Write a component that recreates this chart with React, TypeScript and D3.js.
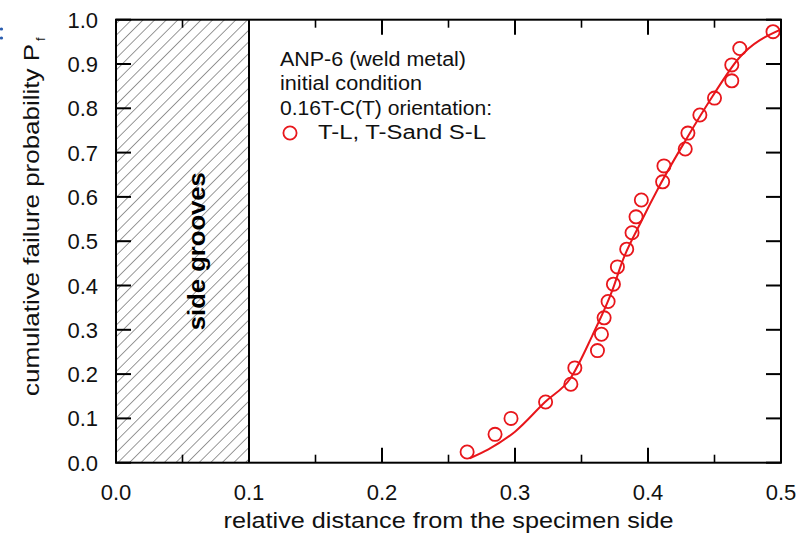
import React from 'react';
import * as d3 from 'd3';

// ---- data ----
const xTickValues = [0, 0.1, 0.2, 0.3, 0.4, 0.5];
const xMinorTickValues = [0.05, 0.15, 0.25, 0.35, 0.45];
const yTickValues = [0, 0.1, 0.2, 0.3, 0.4, 0.5, 0.6, 0.7, 0.8, 0.9, 1.0];

const distance = [
  0.264, 0.285, 0.297, 0.323, 0.342, 0.345, 0.362, 0.365, 0.367, 0.370, 0.374, 0.377,
  0.384, 0.388, 0.391, 0.395, 0.411, 0.412, 0.428, 0.430, 0.439, 0.450, 0.463, 0.463,
  0.469, 0.494,
];
const probability = [
  0.024, 0.064, 0.100, 0.137, 0.177, 0.214, 0.253, 0.290, 0.327, 0.364, 0.403, 0.442,
  0.482, 0.519, 0.555, 0.593, 0.634, 0.670, 0.708, 0.744, 0.785, 0.823, 0.862, 0.898,
  0.935, 0.973,
];

const fitDistance = [0.266, 0.28, 0.30, 0.3226, 0.3416, 0.3583, 0.3733, 0.3808, 0.395, 0.4083, 0.4283, 0.4483, 0.4683, 0.5];
const fitProbability = [0.010, 0.030, 0.070, 0.137, 0.19, 0.288, 0.39, 0.455, 0.545, 0.623, 0.728, 0.826, 0.913, 0.978];

const grooveExtent = [0, 0.1];
const grooveLabel = 'side grooves';
const legendLines = ['ANP-6 (weld metal)', 'initial condition', '0.16T-C(T) orientation:'];
const seriesName = 'T-L, T-Sand S-L';
const xTitle = 'relative distance from the specimen side';
const yTitle = 'cumulative failure probability P';
const yTitleSub = 'f';

const W = 799;
const H = 534;
const FONT = 'Arial, "Liberation Sans", sans-serif';
const RED = '#e8161b';
const legendLengths = [186, 142, 212];

export default function App() {
  const x = d3.scaleLinear().domain([0, 0.5]).range([116, 781]);
  const y = d3.scaleLinear().domain([0, 1]).range([462.7, 19.7]);
  const [x0, x1] = x.range();
  const [y0, y1] = y.range();

  const fitPts = fitDistance.map((d, i) => [d, fitProbability[i]] as [number, number]);
  const line = d3
    .line<[number, number]>()
    .x((d) => x(d[0]))
    .y((d) => y(d[1]))
    .curve(d3.curveMonotoneX);

  const fmt = d3.format('.1f');
  const majorLen = 15;
  const minorLen = 8;

  return (
    <svg
      width={W}
      height={H}
      style={{ position: 'absolute', left: 0, top: 0, background: '#fff' }}
      fontFamily={FONT}
    >
      <defs>
        <pattern
          id="hatch"
          patternUnits="userSpaceOnUse"
          width={8.2}
          height={8.2}
          patternTransform="rotate(45)"
        >
          <line x1={0} y1={0} x2={0} y2={8.2} stroke="#333" strokeWidth={1} />
        </pattern>
        <clipPath id="plotclip">
          <rect x={x0} y={y1} width={x1 - x0} height={y0 - y1} />
        </clipPath>
      </defs>
      <rect width={W} height={H} fill="#fff" />

      {/* stray blue mark at the top-left corner */}
      <circle cx={1.5} cy={29} r={1.6} fill="#2a5db0" />
      <circle cx={1.5} cy={38} r={1.6} fill="#2a5db0" />

      {/* hatched side-groove region */}
      <rect
        x={x(grooveExtent[0])}
        y={y1}
        width={x(grooveExtent[1]) - x(grooveExtent[0])}
        height={y0 - y1}
        fill="url(#hatch)"
      />
      <line x1={x(grooveExtent[1])} x2={x(grooveExtent[1])} y1={y1} y2={y0} stroke="#000" strokeWidth={2} />
      <text
        transform={`translate(${(x(grooveExtent[0]) + x(grooveExtent[1])) / 2 + 22},${(y0 + y1) / 2 + 10}) rotate(-90)`}
        textAnchor="middle"
        fontSize={24}
        fontWeight="bold"
        fill="#000"
        textLength={158}
        lengthAdjust="spacingAndGlyphs"
      >
        {grooveLabel}
      </text>

      {/* fit curve */}
      <g clipPath="url(#plotclip)">
        <path d={line(fitPts) || ''} fill="none" stroke={RED} strokeWidth={2} />
      </g>

      {/* data points */}
      {distance.map((d, i) => (
        <circle key={i} cx={x(d)} cy={y(probability[i])} r={6.6} fill="none" stroke={RED} strokeWidth={1.8} />
      ))}

      {/* ticks */}
      {xTickValues.map((t) => (
        <g key={'xt' + t}>
          <line x1={x(t)} x2={x(t)} y1={y0} y2={y0 - majorLen} stroke="#000" strokeWidth={2} />
          <line x1={x(t)} x2={x(t)} y1={y1} y2={y1 + majorLen} stroke="#000" strokeWidth={2} />
          <text x={x(t)} y={500} textAnchor="middle" fontSize={22} fill="#111">
            {fmt(t)}
          </text>
        </g>
      ))}
      {xMinorTickValues.map((t) => (
        <g key={'xm' + t}>
          <line x1={x(t)} x2={x(t)} y1={y0} y2={y0 - minorLen} stroke="#000" strokeWidth={1.6} />
          <line x1={x(t)} x2={x(t)} y1={y1} y2={y1 + minorLen} stroke="#000" strokeWidth={1.6} />
        </g>
      ))}
      {yTickValues.map((t) => (
        <g key={'yt' + t}>
          <line x1={x0} x2={x0 + majorLen} y1={y(t)} y2={y(t)} stroke="#000" strokeWidth={2} />
          <line x1={x1} x2={x1 - majorLen} y1={y(t)} y2={y(t)} stroke="#000" strokeWidth={2} />
          <text x={98} y={y(t) + 8} textAnchor="end" fontSize={22} fill="#111">
            {fmt(t)}
          </text>
        </g>
      ))}

      {/* frame */}
      <rect x={x0} y={y1} width={x1 - x0} height={y0 - y1} fill="none" stroke="#000" strokeWidth={2} />

      {/* legend */}
      {legendLines.map((s, i) => (
        <text
          key={s}
          x={280}
          y={66 + i * 24.3}
          fontSize={19.5}
          fill="#111"
          textLength={legendLengths[i]}
          lengthAdjust="spacingAndGlyphs"
        >
          {s}
        </text>
      ))}
      <circle cx={290} cy={133} r={6.6} fill="none" stroke={RED} strokeWidth={1.8} />
      <text x={318} y={139} fontSize={19.5} fill="#111" textLength={168} lengthAdjust="spacingAndGlyphs">
        {seriesName}
      </text>

      {/* axis titles */}
      <text
        x={(x0 + x1) / 2}
        y={528}
        textAnchor="middle"
        fontSize={22}
        fill="#111"
        textLength={450}
        lengthAdjust="spacingAndGlyphs"
      >
        {xTitle}
      </text>
      <g transform="translate(39,396) rotate(-90)">
        <text x={0} y={0} fontSize={22} fill="#111" textLength={352} lengthAdjust="spacingAndGlyphs">
          {yTitle}
        </text>
        <text x={355} y={6} fontSize={13} fill="#111">
          {yTitleSub}
        </text>
      </g>
    </svg>
  );
}
